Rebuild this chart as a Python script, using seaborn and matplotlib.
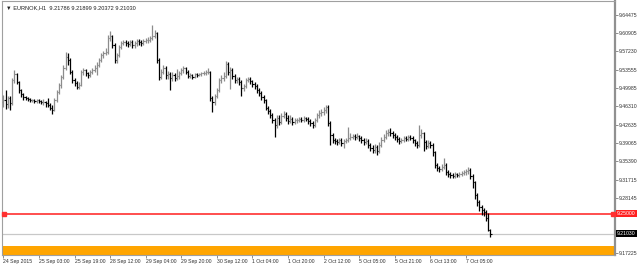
import numpy as np
import pandas as pd
import matplotlib
matplotlib.use("Agg")
import matplotlib.pyplot as plt
import matplotlib.transforms as mtransforms
import seaborn as sns

# ---------------- data ----------------
symbol_title = "EURNOK,H1"
last_ohlc = [9.21786, 9.21899, 9.20372, 9.21030]
first_open = 9.472

closes = [
    9.475, 9.468, 9.479, 9.469, 9.515, 9.527, 9.511, 9.495, 9.487, 9.481,
    9.479, 9.477, 9.475, 9.475, 9.473, 9.475, 9.473, 9.471, 9.471, 9.469,
    9.466, 9.460, 9.456, 9.475, 9.491, 9.505, 9.521, 9.539, 9.561, 9.555,
    9.531, 9.515, 9.509, 9.501, 9.505, 9.531, 9.535, 9.529, 9.525, 9.531,
    9.535, 9.539, 9.545, 9.555, 9.565, 9.569, 9.571, 9.599, 9.603, 9.585,
    9.555, 9.565, 9.581, 9.589, 9.591, 9.589, 9.587, 9.591, 9.585, 9.589,
    9.593, 9.591, 9.589, 9.593, 9.595, 9.595, 9.599, 9.603, 9.609, 9.555,
    9.521, 9.531, 9.539, 9.525, 9.527, 9.519, 9.525, 9.519, 9.523, 9.529,
    9.535, 9.539, 9.531, 9.523, 9.525, 9.521, 9.527, 9.525, 9.527, 9.529,
    9.529, 9.531, 9.531, 9.479, 9.471, 9.483, 9.495, 9.515, 9.519, 9.523,
    9.547, 9.531, 9.535, 9.523, 9.515, 9.517, 9.511, 9.499, 9.503, 9.515,
    9.517, 9.513, 9.507, 9.503, 9.495, 9.489, 9.481, 9.475, 9.460, 9.454,
    9.446, 9.436, 9.426, 9.440, 9.432, 9.444, 9.448, 9.440, 9.434, 9.438,
    9.432, 9.436, 9.436, 9.438, 9.436, 9.440, 9.438, 9.434, 9.430, 9.426,
    9.436, 9.446, 9.450, 9.452, 9.456, 9.462, 9.430, 9.406, 9.396, 9.394,
    9.392, 9.396, 9.390, 9.394, 9.396, 9.400, 9.402, 9.404, 9.402, 9.404,
    9.400, 9.396, 9.392, 9.394, 9.386, 9.380, 9.376, 9.382, 9.374, 9.386,
    9.396, 9.402, 9.410, 9.412, 9.410, 9.406, 9.402, 9.398, 9.394, 9.396,
    9.400, 9.398, 9.402, 9.400, 9.396, 9.390, 9.386, 9.406, 9.410, 9.392,
    9.384, 9.390, 9.386, 9.372, 9.346, 9.340, 9.338, 9.342, 9.346, 9.332,
    9.328, 9.326, 9.324, 9.328, 9.326, 9.328, 9.330, 9.332, 9.334, 9.336,
    9.324, 9.312, 9.286, 9.273, 9.263, 9.257, 9.253, 9.241, 9.21786, 9.21030,
]

highs = [
    9.486, 9.495, 9.484, 9.483, 9.519, 9.535, 9.530, 9.514, 9.498, 9.490,
    9.484, 9.482, 9.480, 9.478, 9.478, 9.478, 9.477, 9.476, 9.478, 9.474,
    9.480, 9.470, 9.466, 9.479, 9.495, 9.510, 9.525, 9.545, 9.571, 9.569,
    9.559, 9.535, 9.519, 9.513, 9.511, 9.535, 9.539, 9.538, 9.532, 9.535,
    9.539, 9.545, 9.551, 9.559, 9.569, 9.574, 9.579, 9.605, 9.613, 9.606,
    9.589, 9.570, 9.585, 9.594, 9.596, 9.595, 9.593, 9.596, 9.595, 9.594,
    9.598, 9.597, 9.595, 9.598, 9.600, 9.601, 9.604, 9.625, 9.615, 9.611,
    9.559, 9.537, 9.545, 9.543, 9.533, 9.532, 9.531, 9.529, 9.537, 9.534,
    9.540, 9.543, 9.542, 9.535, 9.529, 9.528, 9.530, 9.530, 9.530, 9.532,
    9.533, 9.535, 9.540, 9.533, 9.484, 9.488, 9.499, 9.520, 9.525, 9.531,
    9.553, 9.551, 9.541, 9.539, 9.527, 9.522, 9.521, 9.515, 9.508, 9.520,
    9.521, 9.521, 9.516, 9.511, 9.507, 9.499, 9.493, 9.485, 9.478, 9.464,
    9.458, 9.450, 9.440, 9.446, 9.446, 9.450, 9.454, 9.452, 9.446, 9.446,
    9.442, 9.441, 9.441, 9.442, 9.442, 9.444, 9.443, 9.442, 9.438, 9.434,
    9.441, 9.450, 9.455, 9.458, 9.462, 9.466, 9.465, 9.434, 9.410, 9.400,
    9.399, 9.401, 9.400, 9.399, 9.401, 9.422, 9.410, 9.408, 9.408, 9.410,
    9.407, 9.404, 9.400, 9.400, 9.398, 9.390, 9.386, 9.388, 9.386, 9.392,
    9.402, 9.408, 9.416, 9.418, 9.420, 9.414, 9.410, 9.406, 9.402, 9.401,
    9.404, 9.404, 9.406, 9.406, 9.404, 9.399, 9.394, 9.426, 9.418, 9.413,
    9.396, 9.396, 9.394, 9.390, 9.375, 9.350, 9.345, 9.348, 9.360, 9.350,
    9.336, 9.332, 9.330, 9.332, 9.331, 9.333, 9.334, 9.337, 9.339, 9.342,
    9.340, 9.328, 9.315, 9.290, 9.277, 9.268, 9.262, 9.258, 9.252, 9.21899,
]

lows = [
    9.462, 9.458, 9.460, 9.456, 9.466, 9.510, 9.507, 9.490, 9.481, 9.476,
    9.475, 9.474, 9.472, 9.471, 9.470, 9.470, 9.469, 9.467, 9.466, 9.462,
    9.461, 9.455, 9.448, 9.453, 9.472, 9.487, 9.500, 9.517, 9.535, 9.545,
    9.527, 9.510, 9.503, 9.497, 9.497, 9.503, 9.526, 9.524, 9.520, 9.522,
    9.528, 9.531, 9.525, 9.541, 9.551, 9.560, 9.565, 9.567, 9.594, 9.580,
    9.549, 9.550, 9.561, 9.578, 9.585, 9.584, 9.581, 9.583, 9.579, 9.580,
    9.584, 9.586, 9.584, 9.586, 9.589, 9.590, 9.591, 9.596, 9.600, 9.550,
    9.515, 9.517, 9.527, 9.518, 9.517, 9.495, 9.513, 9.514, 9.515, 9.518,
    9.525, 9.530, 9.527, 9.519, 9.520, 9.518, 9.519, 9.522, 9.523, 9.524,
    9.525, 9.526, 9.527, 9.474, 9.452, 9.466, 9.479, 9.491, 9.510, 9.514,
    9.519, 9.526, 9.497, 9.518, 9.510, 9.510, 9.505, 9.484, 9.494, 9.500,
    9.511, 9.508, 9.502, 9.498, 9.490, 9.484, 9.476, 9.469, 9.455, 9.447,
    9.440, 9.430, 9.402, 9.420, 9.426, 9.428, 9.440, 9.435, 9.428, 9.430,
    9.426, 9.428, 9.431, 9.432, 9.432, 9.433, 9.434, 9.429, 9.425, 9.420,
    9.422, 9.432, 9.441, 9.444, 9.446, 9.450, 9.424, 9.386, 9.390, 9.389,
    9.386, 9.388, 9.385, 9.381, 9.390, 9.392, 9.397, 9.398, 9.397, 9.398,
    9.395, 9.390, 9.386, 9.388, 9.380, 9.374, 9.370, 9.371, 9.366, 9.370,
    9.382, 9.392, 9.398, 9.405, 9.405, 9.401, 9.397, 9.393, 9.389, 9.390,
    9.392, 9.394, 9.395, 9.396, 9.391, 9.385, 9.381, 9.383, 9.400, 9.374,
    9.378, 9.380, 9.380, 9.365, 9.340, 9.335, 9.333, 9.334, 9.338, 9.327,
    9.323, 9.321, 9.320, 9.320, 9.322, 9.322, 9.324, 9.326, 9.327, 9.329,
    9.318, 9.300, 9.280, 9.266, 9.255, 9.248, 9.245, 9.235, 9.215, 9.20372,
]

xtick_labels = ["24 Sep 2015", "25 Sep 03:00", "25 Sep 19:00", "28 Sep 12:00",
                "29 Sep 04:00", "29 Sep 20:00", "30 Sep 12:00", "1 Oct 04:00",
                "1 Oct 20:00", "2 Oct 12:00", "5 Oct 05:00", "5 Oct 21:00",
                "6 Oct 13:00", "7 Oct 05:00"]
bars_per_label = 16

ytick_values = [9.64475, 9.60905, 9.57230, 9.53555, 9.49985, 9.46310, 9.42635,
                9.39065, 9.35390, 9.31715, 9.28145, 9.17225]

level_price = 9.25000
bid_price = 9.21030
zone_top = 9.1856
zone_bottom = 9.1500

# ---------------- build table ----------------
n = len(closes)
opens = [first_open] + closes[:-1]
df = pd.DataFrame({"bar": np.arange(n), "open": opens, "high": highs,
                   "low": lows, "close": closes})
df["up"] = df["close"] >= df["open"]

# ---------------- style ----------------
sns.set_theme(style="white")
plt.rcParams["font.family"] = ["Liberation Sans", "DejaVu Sans"]

fig = plt.figure(figsize=(6.4, 2.65), dpi=100)
fig.patch.set_facecolor("white")
ax = fig.add_axes([2 / 640, 10 / 265, 613 / 640, 254 / 265])
ax.set_facecolor("white")

# orange zone
ax.axhspan(zone_bottom, zone_top, color="#FFA500", lw=0, zorder=1)
# bid line
ax.axhline(bid_price, color="#C8C8C8", lw=0.9, zorder=1)
# level line
ax.axhline(level_price, color="#FF3030", lw=1.2, zorder=2)

# OHLC bars
colors = np.where(df["up"], "#8C8C8C", "#000000")
ax.vlines(df["bar"], df["low"], df["high"], colors=colors, lw=0.9, zorder=3)
ax.hlines(df["open"], df["bar"] - 0.5, df["bar"], colors=colors, lw=0.8, zorder=3)
ax.hlines(df["close"], df["bar"], df["bar"] + 0.5, colors=colors, lw=0.8, zorder=3)

ax.set_xlim(-0.6, 275.0)
ax.set_ylim(9.1677, 9.6726)

# level markers at both ends
trans = mtransforms.blended_transform_factory(ax.transAxes, ax.transData)
ax.plot([0.003, 0.996], [level_price, level_price], ls="none", marker="s",
        ms=2.2, color="#FF3030", transform=trans, zorder=4, clip_on=False)

# ticks
xt = [i * bars_per_label for i in range(len(xtick_labels))]
ax.set_xticks(xt)
ax.set_xticklabels(xtick_labels, ha="left", fontsize=3.7, color="#303030")
ax.yaxis.tick_right()
ax.set_yticks(ytick_values)
ax.set_yticklabels([f"{v:.5f}" for v in ytick_values], fontsize=3.7, color="#303030")
ax.tick_params(axis="x", bottom=True, length=2, width=0.5, pad=1.2, color="#606060")
ax.tick_params(axis="y", right=True, left=False, length=2, width=0.5, pad=1.0, color="#606060")
ax.grid(False)

for side in ["left", "bottom", "top"]:
    ax.spines[side].set_color("#A0A0A0")
    ax.spines[side].set_linewidth(0.8)
ax.spines["right"].set_color("#909090")
ax.spines["right"].set_linewidth(1.6)

# price labels on the right axis
ax.text(1.003, level_price, f"{level_price:.5f}", transform=trans, fontsize=3.7,
        color="white", va="center", ha="left", zorder=6,
        bbox=dict(facecolor="#FF2020", edgecolor="none", pad=0.8), clip_on=False)
ax.text(1.003, bid_price, f"{bid_price:.5f}", transform=trans, fontsize=3.7,
        color="white", va="center", ha="left", zorder=6,
        bbox=dict(facecolor="#000000", edgecolor="none", pad=0.8), clip_on=False)

# title
title = "\u25BC " + symbol_title + "  " + " ".join(f"{v:.5f}" for v in last_ohlc)
ax.text(0.006, 0.985, title, transform=ax.transAxes, fontsize=4.1, color="#202020",
        va="top", ha="left", zorder=6)

fig.savefig("out.png", dpi=100, facecolor="white")
